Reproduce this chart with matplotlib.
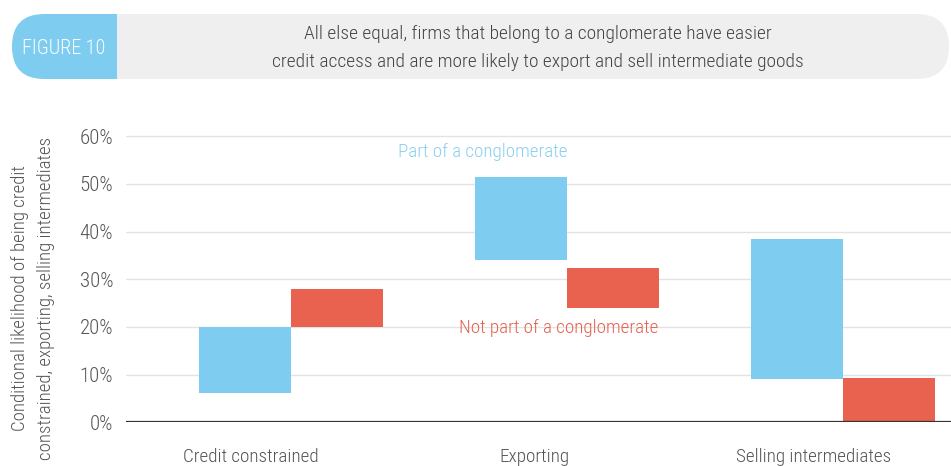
import matplotlib
matplotlib.use("Agg")
import matplotlib.pyplot as plt
from matplotlib import font_manager
from matplotlib.patches import FancyBboxPatch, Rectangle
from matplotlib.transforms import blended_transform_factory
from matplotlib.ticker import FuncFormatter


def pick_family(candidates):
    for fam in candidates:
        try:
            font_manager.findfont(font_manager.FontProperties(family=fam),
                                  fallback_to_default=False)
            return fam
        except Exception:
            continue
    return "DejaVu Sans"


FAMILY = pick_family(["Liberation Sans Narrow", "Roboto Condensed",
                      "Open Sans Condensed", "Roboto"])
plt.rcParams['font.family'] = [FAMILY, 'DejaVu Sans']
plt.rcParams['font.weight'] = 'light'

# Data: ranges (low/high, in %) of conditional likelihoods
categories = ["Credit constrained", "Exporting", "Selling intermediates"]
conglo_low = [6.2, 34.1, 9.0]
conglo_high = [20.0, 51.5, 38.5]
nonconglo_low = [20.0, 24.0, 0.0]
nonconglo_high = [27.9, 32.3, 9.2]
yticks = [0, 10, 20, 30, 40, 50, 60]

title_lines = ["All else equal, firms that belong to a conglomerate have easier",
               "credit access and are more likely to export and sell intermediate goods"]
figure_tag = "FIGURE 10"
ylabel = "Conditional likelihood of being credit\nconstrained, exporting, selling intermediates"

BLUE = "#7ecdf1"
RED = "#e8624f"
TEXT = "#555555"

W, H = 951, 466
fig = plt.figure(figsize=(W / 100, H / 100), dpi=100)

# main chart area
ax_left, ax_right = 126.3, 951.0
ax_bottom_px = 422.3          # pixel row of 0%
px_per_10 = 47.7
ytop = 62.0
ax_h = ytop / 10 * px_per_10
ax = fig.add_axes([ax_left / W, (H - ax_bottom_px) / H,
                   (ax_right - ax_left) / W, ax_h / H])

px_per_unit = 276.0
x0_px = 290.7
ax.set_xlim((ax_left - x0_px) / px_per_unit, (ax_right - x0_px) / px_per_unit)
ax.set_ylim(0, ytop)

width = 92.0 / px_per_unit
xs = list(range(len(categories)))
ax.bar([x - width / 2 for x in xs],
       [h - l for h, l in zip(conglo_high, conglo_low)],
       bottom=conglo_low, width=width, color=BLUE, zorder=3, linewidth=0)
ax.bar([x + width / 2 for x in xs],
       [h - l for h, l in zip(nonconglo_high, nonconglo_low)],
       bottom=nonconglo_low, width=width, color=RED, zorder=3, linewidth=0)

# grid and axes styling
for t in yticks[1:]:
    ax.axhline(t, color="#e3e3e3", lw=1.0, zorder=1)
ax.axhline(0, color="#333333", lw=1.6, zorder=4)
for s in ax.spines.values():
    s.set_visible(False)
ax.set_yticks(yticks)
ax.yaxis.set_major_formatter(FuncFormatter(lambda v, p: f"{v:.0f}%"))
ax.tick_params(axis="y", length=0, pad=9.4, labelsize=15, labelcolor=TEXT)
ax.set_xticks([])

# category labels, set a little left of each bar pair
label_shift = [-40 / px_per_unit, -32 / px_per_unit, -29 / px_per_unit]
trans = blended_transform_factory(ax.transData, ax.transAxes)
for x, c, dx in zip(xs, categories, label_shift):
    ax.text(x + dx, -0.116, c, transform=trans, ha="center", va="center",
            fontsize=13.8, color=TEXT)

# series labels
ax.text(1 - 0.305, 56.7, "Part of a conglomerate", ha="center", va="center",
        fontsize=13.8, color="#8ad0ef")
ax.text(1 - 0.03, 19.8, "Not part of a conglomerate", ha="center", va="center",
        fontsize=13.8, color="#e5614e")

fig.text(33 / W, (H - 298) / H, ylabel, rotation=90, ha="center", va="center",
         fontsize=13.6, color=TEXT, linespacing=1.55, multialignment="center")

# header banner
hdr = fig.add_axes([0, 0, 1, 1], zorder=5)
hdr.set_xlim(0, W)
hdr.set_ylim(H, 0)
hdr.axis("off")
bx0, bx1, by0, by1 = 12, 949, 14, 79
r = (by1 - by0) / 2
hdr.add_patch(FancyBboxPatch((bx0, by0), bx1 - bx0, by1 - by0,
                             boxstyle=f"round,pad=0,rounding_size={r}",
                             fc="#efefef", ec="none"))
blue_tab = FancyBboxPatch((bx0, by0), 160, by1 - by0,
                          boxstyle=f"round,pad=0,rounding_size={r}",
                          fc=BLUE, ec="none")
hdr.add_patch(blue_tab)
clip = Rectangle((bx0, by0), 117 - bx0, by1 - by0, transform=hdr.transData)
blue_tab.set_clip_path(clip)
hdr.text(64, 48, figure_tag, ha="center", va="center", fontsize=14.5, color="white")
hdr.text(538, 34, title_lines[0], ha="center", va="center", fontsize=14, color="#444444")
hdr.text(538, 62, title_lines[1], ha="center", va="center", fontsize=14, color="#444444")

fig.savefig("out.png", dpi=100)
